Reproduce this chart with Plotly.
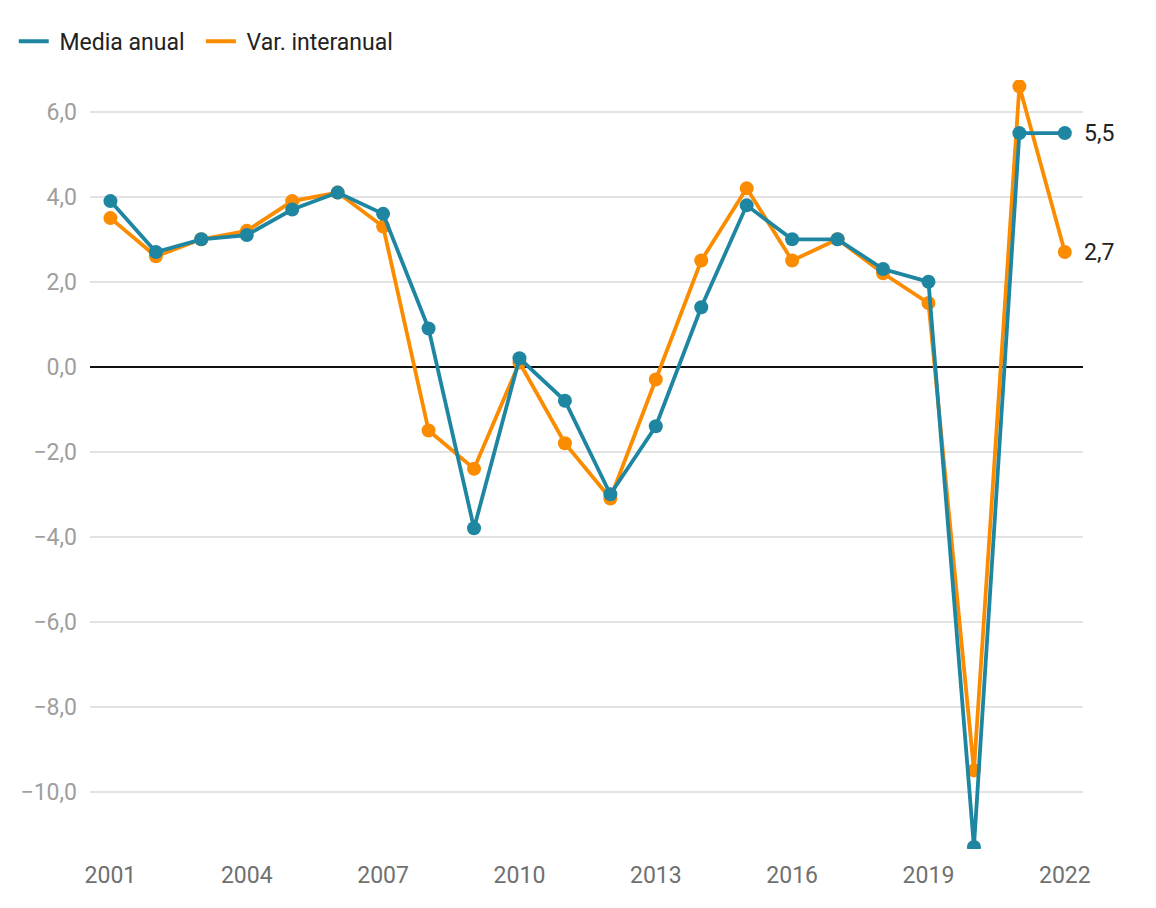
import plotly.graph_objects as go

years = list(range(2001, 2023))

media_anual = [3.9, 2.7, 3.0, 3.1, 3.7, 4.1, 3.6, 0.9, -3.8, 0.2, -0.8,
               -3.0, -1.4, 1.4, 3.8, 3.0, 3.0, 2.3, 2.0, -11.3, 5.5, 5.5]

var_interanual = [3.5, 2.6, 3.0, 3.2, 3.9, 4.1, 3.3, -1.5, -2.4, 0.1, -1.8,
                  -3.1, -0.3, 2.5, 4.2, 2.5, 3.0, 2.2, 1.5, -9.5, 6.6, 2.7]

teal = "#1f86a2"
orange = "#fb8c00"

fig = go.Figure()

fig.add_trace(go.Scatter(
    x=years, y=var_interanual, name="Var. interanual",
    mode="lines+markers",
    line=dict(color=orange, width=3.8),
    marker=dict(size=14, color=orange),
    showlegend=False
))

fig.add_trace(go.Scatter(
    x=years, y=media_anual, name="Media anual",
    mode="lines+markers",
    line=dict(color=teal, width=3.8),
    marker=dict(size=14, color=teal),
    showlegend=False
))

# leyenda solo con línea, sin puntos
nbsp = "\u00a0"
for nombre, color in (("Media anual", teal), ("Var. interanual", orange)):
    fig.add_trace(go.Scatter(
        x=[None], y=[None], name=nbsp + nombre + nbsp * 2, mode="lines",
        line=dict(color=color, width=4)
    ))

# etiquetas del último valor
for serie in (media_anual, var_interanual):
    fig.add_annotation(
        x=years[-1], y=serie[-1],
        text=f"{serie[-1]:.1f}".replace(".", ","),
        showarrow=False, xanchor="left", xshift=17,
        font=dict(size=23, color="#222222")
    )

fig.update_layout(
    width=1148,
    height=900,
    margin=dict(l=82, r=73, t=72, b=59),
    paper_bgcolor="white",
    plot_bgcolor="white",
    separators=",.",
    font=dict(family="Roboto", size=23, color="#222222"),
    showlegend=True,
    legend=dict(
        orientation="h",
        xref="container", yref="container",
        x=0.005, y=0.987,
        xanchor="left", yanchor="top",
        font=dict(size=23, color="#222222"),
        itemwidth=30,
        tracegroupgap=0
    )
)

fig.update_xaxes(
    range=[2000.55, 2022.4],
    tick0=2001, dtick=3,
    showgrid=False, zeroline=False, showline=False,
    ticks="", ticklabelstandoff=10,
    tickfont=dict(size=23, color="#707070")
)

fig.update_yaxes(
    range=[-11.35, 6.75],
    dtick=2, tickformat=".1f",
    showgrid=True, gridcolor="#e3e3e3", gridwidth=1.5,
    zeroline=True, zerolinecolor="#111111", zerolinewidth=1.5,
    ticks="", ticklabelstandoff=12,
    tickfont=dict(size=23, color="#9e9e9e")
)

fig.write_html("out.html")
